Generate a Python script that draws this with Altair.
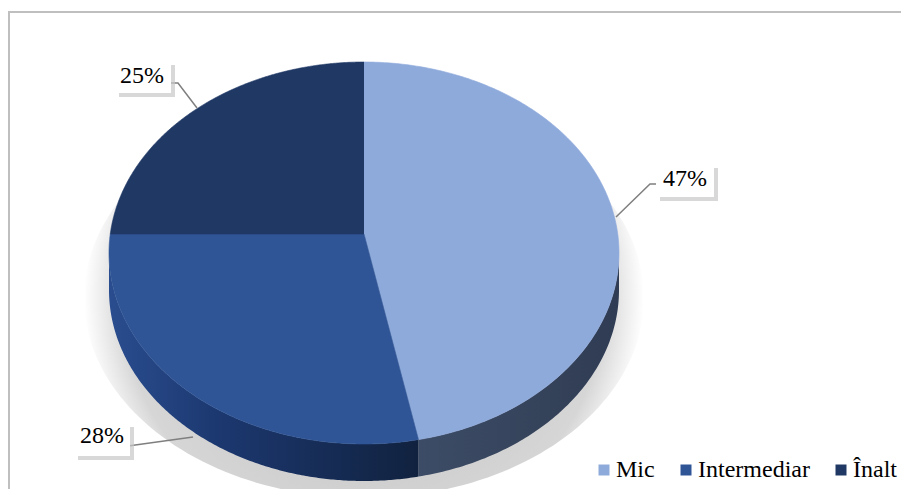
import altair as alt
import pandas as pd
import numpy as np

# ---------------- data ----------------
categories = ["Mic", "Intermediar", "Înalt"]
percents = [47, 28, 25]
pct_labels = ["47%", "28%", "25%"]
top_colors = ["#8eaadb", "#2f5597", "#1f3864"]

# ---------------- layout (page pixels) ----------------
W, H = 893, 481
OFF = 8                      # page margin
CX, ECY = 364, 253           # ellipse centre of top face
RX, RY = 255, 191            # ellipse radii
VX, VY = 364, 234            # pie apex (where slices meet)
K = 0.72                     # perspective squash of directions
DEPTH = 37                   # side thickness
N = 240
SERIF = "Liberation Serif"

label_cx = [685, 102, 142]
label_base = [186, 443, 83]
box_x1 = [656, 74, 115]
box_x2 = [714, 130, 171]
box_y1 = [164, 423, 61]
box_y2 = [197, 456, 93]
leaders = {
    "47%": [(657, 184), (650, 184), (616, 217)],
    "28%": [(128, 446), (193, 437)],
    "25%": [(166, 83), (178, 83), (197, 108)],
}


def ray_point(theta):
    dx, dy = np.sin(theta), -K * np.cos(theta)
    ox, oy = (VX - CX) / RX, (VY - ECY) / RY
    ux, uy = dx / RX, dy / RY
    a = ux * ux + uy * uy
    b = 2 * (ox * ux + oy * uy)
    c = ox * ox + oy * oy - 1
    s = (-b + np.sqrt(b * b - 4 * a * c)) / (2 * a)
    return VX + s * dx, VY + s * dy


top_rows, side_rows = [], []
cum = 0.0
total = float(sum(percents))
for cat, p in zip(categories, percents):
    t0 = 2 * np.pi * cum / total
    t1 = 2 * np.pi * (cum + p) / total
    cum += p
    ts = np.linspace(t0, t1, N)
    pts = [ray_point(t) for t in ts]
    top_rows.append({"piece": cat, "idx": 0, "x": VX, "y": VY})
    for i, (x, y) in enumerate(pts):
        top_rows.append({"piece": cat, "idx": i + 1, "x": x, "y": y})
    vis = [(x, y) for (x, y) in pts if y >= ECY - 0.5]
    if len(vis) > 1:
        j = 0
        for (x, y) in vis:
            side_rows.append({"piece": cat, "idx": j, "x": x, "y": y}); j += 1
        for (x, y) in reversed(vis):
            side_rows.append({"piece": cat, "idx": j, "x": x, "y": y + DEPTH}); j += 1

top_df = pd.DataFrame(top_rows)
side_df = pd.DataFrame(side_rows)

# shadow ellipse
sh = np.linspace(0, 2 * np.pi, 200)
shadow_df = pd.DataFrame({"idx": np.arange(200),
                          "x": CX + 280 * np.sin(sh),
                          "y": 298 - 200 * np.cos(sh)})

lead_rows = []
for lab, pts in leaders.items():
    for i, (x, y) in enumerate(pts):
        lead_rows.append({"lab": lab, "idx": i, "x": x, "y": y})
lead_df = pd.DataFrame(lead_rows)

label_df = pd.DataFrame({"lab": pct_labels, "cx": label_cx, "base": label_base,
                         "x1": box_x1, "x2": box_x2, "y1": box_y1, "y2": box_y2})
label_df["sx1"] = label_df["x1"] + 4
label_df["sx2"] = label_df["x2"] + 4
label_df["sy1"] = label_df["y1"] + 4
label_df["sy2"] = label_df["y2"] + 4

xs = alt.Scale(domain=[OFF, OFF + W], nice=False, zero=False)
ys = alt.Scale(domain=[OFF, OFF + H], nice=False, zero=False, reverse=True)
X = lambda f: alt.X(f, type="quantitative", scale=xs, axis=None)
Y = lambda f: alt.Y(f, type="quantitative", scale=ys, axis=None)

shadow = alt.Chart(shadow_df).mark_line(
    fill={"gradient": "radial", "x1": 0.5, "y1": 0.5, "r1": 0, "x2": 0.5, "y2": 0.5, "r2": 0.5,
          "stops": [{"offset": 0, "color": "#bcbcbc"}, {"offset": 0.86, "color": "#d6d6d6"},
                    {"offset": 1, "color": "#ffffff"}]},
    strokeWidth=0).encode(x=X("x"), y=Y("y"), order="idx:Q")

side_grad = {
    "Mic": [{"offset": 0, "color": "#3d4c66"}, {"offset": 1, "color": "#2f3c53"}],
    "Intermediar": [{"offset": 0, "color": "#2a4d8f"}, {"offset": 0.35, "color": "#1c3870"},
                    {"offset": 1, "color": "#11223f"}],
}
sides = []
for cat, stops in side_grad.items():
    sides.append(alt.Chart(side_df).transform_filter(alt.datum.piece == cat).mark_line(
        fill={"gradient": "linear", "x1": 0, "y1": 0, "x2": 1, "y2": 0, "stops": stops},
        strokeWidth=0).encode(x=X("x"), y=Y("y"), order="idx:Q"))

cscale = alt.Scale(domain=categories, range=top_colors)
tops = alt.Chart(top_df).mark_line(strokeWidth=0.6).encode(
    x=X("x"), y=Y("y"), order="idx:Q",
    fill=alt.Fill("piece:N", scale=cscale, sort=categories,
                  legend=alt.Legend(title=None, orient="none", direction="horizontal",
                                    legendX=584, legendY=450, symbolType="square",
                                    symbolSize=121, symbolStrokeWidth=0,
                                    labelFont=SERIF, labelFontSize=24,
                                    labelColor="#000000", labelOffset=0,
                                    columnPadding=19, labelLimit=300)),
    stroke=alt.Stroke("piece:N", scale=cscale, sort=categories, legend=None),
)

leader = alt.Chart(lead_df).mark_line(color="#7f7f7f", strokeWidth=1.5).encode(
    x=X("x"), y=Y("y"), order="idx:Q", detail="lab:N")

box_shadow = alt.Chart(label_df).mark_rect(color="#c8c8c8", opacity=0.7).encode(
    x=X("sx1"), x2="sx2", y=Y("sy1"), y2="sy2")
box = alt.Chart(label_df).mark_rect(color="#ffffff").encode(
    x=X("x1"), x2="x2", y=Y("y1"), y2="y2")
text = alt.Chart(label_df).mark_text(font=SERIF, fontSize=24, color="#000000",
                                     align="center", baseline="alphabetic").encode(
    x=X("cx"), y=Y("base"), text="lab:N")

border = alt.Chart(pd.DataFrame({"a": [0]})).mark_rule(color="#bfbfbf", strokeWidth=2).encode(
    x=alt.value(0), x2=alt.value(W), y=alt.value(4))
border2 = alt.Chart(pd.DataFrame({"a": [0]})).mark_rule(color="#bfbfbf", strokeWidth=2).encode(
    x=alt.value(1), y=alt.value(4), y2=alt.value(H))

chart = alt.layer(shadow, *sides, tops, leader, box_shadow, box, text, border, border2).properties(
    width=W, height=H, padding=0, autosize="none", background="#ffffff"
).configure_view(stroke=None)

chart.save("out.html", embed_options={"renderer": "svg", "actions": False})
